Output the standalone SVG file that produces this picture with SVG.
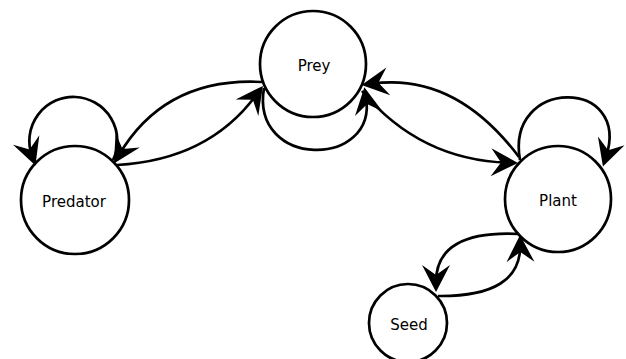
<svg xmlns="http://www.w3.org/2000/svg" width="626" height="359" viewBox="0 0 626 359">
<defs>
<marker id="arr" markerUnits="userSpaceOnUse" orient="auto" markerWidth="40" markerHeight="40" viewBox="-20 -20 40 40" refX="0" refY="0" overflow="visible">
<path d="M10,0 L-17,-14 L-7,0 L-17,14 Z" fill="#000"/>
</marker>
</defs>
<style>
.node circle{fill:#fff;stroke:#000;stroke-width:2.7}
.node text{font-family:"DejaVu Sans",sans-serif;font-size:15px;text-anchor:middle;fill:#000}
#edges path{fill:none;stroke:#000;stroke-width:2.7;marker-end:url(#arr)}
</style>
<rect width="626" height="359" fill="#fff"/>
<g id="prey" class="node"><circle cx="313" cy="64" r="53"/><text x="314" y="70.5">Prey</text></g>
<g id="predator" class="node"><circle cx="75" cy="200" r="54"/><text x="74" y="207">Predator</text></g>
<g id="plant" class="node"><circle cx="558" cy="199" r="53"/><text x="558" y="206">Plant</text></g>
<g id="seed" class="node"><circle cx="408" cy="323" r="39"/><text x="409" y="330">Seed</text></g>
<g id="edges">
<path d="M113,160 A44,44 0 1 0 32,156"/>
<path d="M262,82 Q165,77 119,155"/>
<path d="M117,165 Q209,160 257,94"/>
<path d="M264,88 C250,169 378,169 366,97"/>
<path d="M519,157 Q455,72 371.5,83.7"/>
<path d="M362,91 Q420,160 508,162.7"/>
<path d="M520,160 C505,77 632,77 606,157"/>
<path d="M519,234 Q436,230 436,282"/>
<path d="M438,296 Q521,297 520.2,245"/>
</g>
</svg>
